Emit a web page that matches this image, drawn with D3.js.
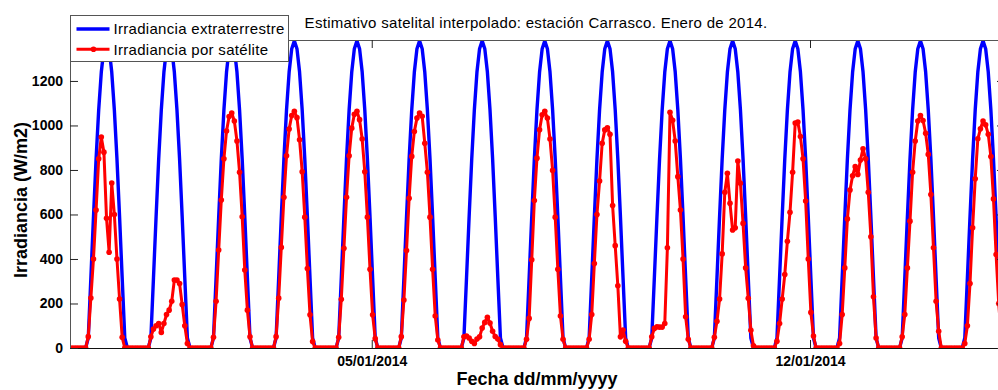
<!DOCTYPE html>
<html>
<head>
<meta charset="utf-8">
<script src="https://cdn.jsdelivr.net/npm/d3@7"></script>
<style>
  body { margin: 0; background: #fff; }
  svg { display: block; overflow: hidden; }
  text { font-family: "Liberation Sans", Arial, Helvetica, sans-serif; }
</style>
</head>
<body>
<div id="chart"></div>
<script>
// hourly series, first point at `inicio`; one row per day (row d, index j -> hour 24*d + j)
const inicio = new Date(2013, 11, 31, 4, 20);
const fin = new Date(2014, 0, 15, 2, 45);

// extraterrestrial irradiance, same daily profile every day (W/m2)
const extraterrestreDia = [0,0,0,0,0,0,0,45,315,590,850,1070,1240,1345,1380,1345,1240,1070,850,590,315,45,0,0];

// satellite estimate (W/m2)
const satelite = [
  [0,0,0,0,0,0,0, 51,225,400,620,850,948,880,583,430,741,600,400,220,48, 0,0,0],
  [0,0,0,0,0,0,0, 50,85,100,110,70,110,150,170,210,305,305,290,195,100,20, 0,0],
  [0,0,0,0,0,0,0, 48,210,440,665,850,975,1040,1056,1020,930,790,590,350,170,50, 0,0],
  [0,0,0,0,0,0,0, 51,224,452,677,864,984,1045,1064,1035,936,792,588,357,149,29, 0,0],
  [0,0,0,0,0,0,0, 48,219,448,677,864,988,1050,1064,1026,939,792,588,354,149,42, 0,0],
  [0,0,0,0,0,0,0, 51,216,438,673,861,973,1033,1056,1041,920,790,588,354,144,36, 0,0],
  [0,0,0,0,0,0,0, 50,54,45,30,20,40,50,90,115,138,112,75,52,40,15, 0,0],
  [0,0,0,0,0,0,0, 39,133,396,663,853,981,1048,1064,1033,939,798,588,354,144,39, 0,0],
  [0,0,0,0,0,0,0, 39,150,380,600,750,920,980,990,960,640,460,280,50,81,30, 0,0],
  [0,0,0,0,0,0,0, 50,88,95,94,94,110,450,1059,1023,930,770,620,400,140,39, 0,0],
  [0,0,0,0,0,0,0, 48,120,220,423,700,785,650,530,540,840,740,560,360,223,80,10, 0],
  [0,0,0,0,0,0,0, 30,110,220,330,480,610,790,1011,1015,950,850,660,400,160,54, 0,0],
  [0,0,0,0,0,0,0, 20,150,360,580,710,774,815,780,845,895,850,700,500,230,45, 0,0],
  [0,0,0,0,0,0,0, 50,150,360,570,790,930,1020,1045,1022,965,870,690,450,210,75, 0,0],
  [0,0,0,0,0,0,0, 20,100,290,540,760,940,985,1020,1003,960,860,670,420,200,50, 0]
];

const ticksFecha = [new Date(2014, 0, 5), new Date(2014, 0, 12)];
const ticksY = [0, 200, 400, 600, 800, 1000, 1200];
const maxY = 1384;

const titulo = "Estimativo satelital interpolado: estación Carrasco. Enero de 2014.";
const etiquetaX = "Fecha dd/mm/yyyy";
const etiquetaY = "Irradiancia (W/m2)";
const leyenda = ["Irradiancia extraterrestre", "Irradiancia por satélite"];

const hora = 3600 * 1000;
const dataSat = satelite.flat().map((v, i) => ({t: new Date(inicio.getTime() + i * hora), v: v}));
const dataExt = dataSat.map((d, i) => ({t: d.t, v: extraterrestreDia[i % 24]}));

const margin = {top: 40, left: 70},
      width = 935,
      height = 308;

const svg = d3.select("#chart")
              .append("svg")
              .attr("width", 998)
              .attr("height", 390);

const g = svg.append("g")
             .attr("transform", `translate(${margin.left}, ${margin.top})`);

const x = d3.scaleTime()
            .domain([inicio, fin])
            .range([0, width]);

const y = d3.scaleLinear()
            .domain([0, maxY])
            .range([height, 0]);

g.append("clipPath")
 .attr("id", "area")
 .append("rect")
 .attr("width", width)
 .attr("height", height);

const plot = g.append("g").attr("clip-path", "url(#area)");

const line = d3.line()
               .x(d => x(d.t))
               .y(d => y(d.v));

plot.append("path")
    .datum(dataExt)
    .attr("d", line)
    .attr("fill", "none")
    .attr("stroke", "#0000ff")
    .attr("stroke-width", 3.4)
    .attr("stroke-linejoin", "round");

plot.append("path")
    .datum(dataSat)
    .attr("d", line)
    .attr("fill", "none")
    .attr("stroke", "#ff0000")
    .attr("stroke-width", 3)
    .attr("stroke-linejoin", "round");

plot.selectAll("circle")
    .data(dataSat)
    .join("circle")
    .attr("cx", d => x(d.t))
    .attr("cy", d => y(d.v))
    .attr("r", 2.8)
    .attr("fill", "#ff0000");

// axes box
g.append("rect")
 .attr("x", 0.5)
 .attr("y", 0.5)
 .attr("width", width)
 .attr("height", height)
 .attr("fill", "none")
 .attr("stroke", "#555")
 .attr("stroke-width", 1);

g.append("line")
 .attr("x1", 0).attr("x2", width)
 .attr("y1", height + 0.5).attr("y2", height + 0.5)
 .attr("stroke", "#111");

function styleAxis(sel) {
  sel.select(".domain").remove();
  sel.selectAll(".tick line").attr("stroke", "#222");
  sel.selectAll("text")
     .attr("fill", "#000")
     .attr("font-family", "'Liberation Sans', Arial, sans-serif")
     .attr("font-size", 14)
     .attr("font-weight", "bold");
}

g.append("g")
 .attr("transform", `translate(0, ${height})`)
 .call(d3.axisBottom(x).tickValues(ticksFecha)
         .tickFormat(d3.timeFormat("%d/%m/%Y"))
         .tickSizeInner(-8).tickSizeOuter(0).tickPadding(8))
 .call(styleAxis);

g.append("g")
 .call(d3.axisTop(x).tickValues(ticksFecha).tickFormat("")
         .tickSizeInner(-8).tickSizeOuter(0))
 .call(styleAxis);

g.append("g")
 .call(d3.axisLeft(y).tickValues(ticksY).tickFormat(d3.format("d"))
         .tickSizeInner(-8).tickSizeOuter(0).tickPadding(7))
 .call(styleAxis);

g.append("g")
 .attr("transform", `translate(${width}, 0)`)
 .call(d3.axisRight(y).tickValues(ticksY).tickFormat("")
         .tickSizeInner(-8).tickSizeOuter(0))
 .call(styleAxis);

// title and axis labels
svg.append("text")
   .attr("x", 536)
   .attr("y", 28)
   .attr("text-anchor", "middle")
   .attr("font-size", 15)
   .attr("letter-spacing", 0.3)
   .text(titulo);

svg.append("text")
   .attr("x", 537)
   .attr("y", 385)
   .attr("text-anchor", "middle")
   .attr("font-size", 18)
   .attr("font-weight", "bold")
   .text(etiquetaX);

svg.append("text")
   .attr("transform", "translate(27, 200) rotate(-90)")
   .attr("text-anchor", "middle")
   .attr("font-size", 18)
   .attr("font-weight", "bold")
   .text(etiquetaY);

// legend
const leg = svg.append("g").attr("transform", "translate(70.5, 15.5)");

leg.append("rect")
   .attr("width", 218)
   .attr("height", 46)
   .attr("fill", "#fff")
   .attr("stroke", "#555");

const colores = ["#0000ff", "#ff0000"];
leyenda.forEach((nombre, i) => {
  const cy = 13.5 + i * 20.3;
  leg.append("line")
     .attr("x1", 6).attr("x2", 39)
     .attr("y1", cy).attr("y2", cy)
     .attr("stroke", colores[i])
     .attr("stroke-width", i === 0 ? 3.4 : 3);
  if (i === 1) {
    leg.append("circle")
       .attr("cx", 23).attr("cy", cy)
       .attr("r", 2.8)
       .attr("fill", colores[i]);
  }
  leg.append("text")
     .attr("x", 43)
     .attr("y", cy + 5.3)
     .attr("font-size", 15)
     .attr("letter-spacing", 0.3)
     .text(nombre);
});
</script>
</body>
</html>
